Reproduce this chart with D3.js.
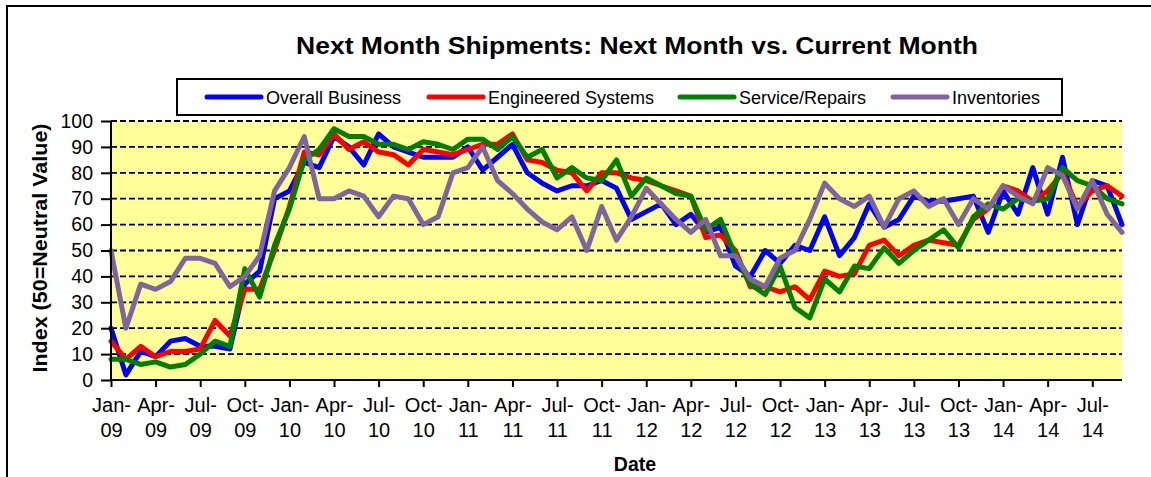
<!DOCTYPE html>
<html>
<head>
<meta charset="utf-8">
<script src="https://cdn.jsdelivr.net/npm/d3@7"></script>
<style>
  body { margin: 0; background: #fff; }
  svg text { font-family: Arial, "Liberation Sans", sans-serif; fill: #000; }
</style>
</head>
<body>
<div id="container"></div>
<script>
// monthly categories Jan-09 .. Sep-14
var monthNames = ["Jan", "Feb", "Mar", "Apr", "May", "Jun", "Jul", "Aug", "Sep", "Oct", "Nov", "Dec"];
var years = ["09", "10", "11", "12", "13", "14"];
var lastMonthOfLastYear = 9;

var overallBusiness = [20, 2, 11, 9, 15, 16, 13, 13, 12, 37, 42, 70, 73, 84, 82, 94, 90, 83, 95, 90,
  88, 86, 86, 86, 90, 81, 86, 91, 80, 76, 73, 75, 75, 77, 74, 62, 65, 68, 60, 64,
  57, 59, 44, 40, 50, 45, 52, 50, 63, 48, 55, 68, 59, 62, 71, 69, 69, 70, 71, 57,
  73, 64, 82, 64, 86, 60, 77, 75, 60];
var engineeredSystems = [15, 8, 13, 9, 11, 11, 12, 23, 17, 35, 35, 50, 67, 88, 87, 95, 89, 92, 88, 87,
  83, 89, 88, 87, 89, 91, 91, 95, 85, 84, 81, 80, 73, 80, 80, 78, 77, 75, 73, 71,
  55, 56, 50, 36, 36, 34, 36, 31, 42, 40, 41, 52, 54, 48, 52, 54, 53, 52, 62, 66,
  75, 73, 69, 73, 80, 67, 73, 75, 71];
var serviceRepairs = [8, 8, 6, 7, 5, 6, 10, 15, 13, 43, 32, 52, 66, 85, 89, 97, 94, 94, 91, 91,
  89, 92, 91, 89, 93, 93, 89, 94, 86, 89, 78, 82, 78, 77, 85, 71, 78, 75, 72, 71,
  58, 62, 48, 37, 33, 44, 28, 24, 39, 34, 44, 43, 51, 45, 50, 54, 58, 51, 63, 68,
  66, 70, 69, 70, 82, 77, 75, 70, 68];
var inventories = [50, 20, 37, 35, 38, 47, 47, 45, 36, 40, 48, 73, 82, 94, 70, 70, 73, 71, 63, 71,
  70, 60, 63, 80, 82, 90, 77, 72, 66, 61, 58, 63, 50, 67, 54, 63, 74, 68, 62, 57,
  62, 48, 48, 39, 36, 47, 50, 62, 76, 70, 67, 71, 59, 70, 73, 67, 70, 60, 70, 66,
  75, 71, 68, 82, 79, 66, 77, 64, 57];

var seriesNames = ["Overall Business", "Engineered Systems", "Service/Repairs", "Inventories"];
var seriesColors = ["#0000ff", "#ff0000", "#008000", "#8064a2"];
var seriesValues = [overallBusiness, engineeredSystems, serviceRepairs, inventories];
var yTicks = [0, 10, 20, 30, 40, 50, 60, 70, 80, 90, 100];

var categories = [];
years.forEach(function (y, yi) {
  monthNames.forEach(function (m, mi) {
    if (yi === years.length - 1 && mi > lastMonthOfLastYear - 1) return;
    categories.push(m + "-" + y);
  });
});

var W = 1151, H = 477;
var plot = { left: 111, right: 1122, top: 121, bottom: 380 };

var svg = d3.select("#container").append("svg")
  .attr("width", W).attr("height", H);

// chart border (runs off the right and bottom)
svg.append("rect")
  .attr("x", 7).attr("y", 6)
  .attr("width", 1200).attr("height", 520)
  .attr("fill", "#fff")
  .attr("stroke", "#000").attr("stroke-width", 2);

var x = d3.scalePoint().domain(categories).range([plot.left, plot.right]);
var y = d3.scaleLinear().domain([0, 100]).range([plot.bottom, plot.top]);

svg.append("rect")
  .attr("x", plot.left).attr("y", plot.top)
  .attr("width", plot.right - plot.left).attr("height", plot.bottom - plot.top)
  .attr("fill", "#ffff99");

// dashed gridlines
svg.append("g").selectAll("line")
  .data(yTicks.filter(function (d) { return d > 0; }))
  .enter().append("line")
  .attr("x1", plot.left).attr("x2", plot.right)
  .attr("y1", function (d) { return y(d); })
  .attr("y2", function (d) { return y(d); })
  .attr("stroke", "#000")
  .attr("stroke-width", 1.8)
  .attr("stroke-dasharray", "6,3");

// series lines
var line = d3.line()
  .x(function (d, i) { return x(categories[i]); })
  .y(function (d) { return y(d); });

svg.append("g").selectAll("path")
  .data(seriesValues)
  .enter().append("path")
  .attr("d", line)
  .attr("fill", "none")
  .attr("stroke", function (d, i) { return seriesColors[i]; })
  .attr("stroke-width", 5)
  .attr("stroke-linejoin", "round")
  .attr("stroke-linecap", "round");

// axes
var yAxis = d3.axisLeft(y).tickValues(yTicks).tickSize(10).tickPadding(8);
var yAxisG = svg.append("g")
  .attr("transform", "translate(" + plot.left + ",0)")
  .call(yAxis);
yAxisG.select(".domain").remove();
yAxisG.selectAll(".tick line").attr("stroke", "#000").attr("stroke-width", 2);
yAxisG.selectAll("text").style("font-size", "19.5px");

var xAxis = d3.axisBottom(x)
  .tickValues(categories.filter(function (d, i) { return i % 3 === 0; }))
  .tickSize(7).tickPadding(0);
var xAxisG = svg.append("g")
  .attr("transform", "translate(0," + plot.bottom + ")")
  .call(xAxis);
xAxisG.select(".domain").remove();
xAxisG.selectAll(".tick line").attr("stroke", "#000").attr("stroke-width", 2);
xAxisG.selectAll(".tick text")
  .style("font-size", "20px")
  .attr("y", null).attr("dy", null)
  .each(function (d) {
    var parts = d.split("-");
    var t = d3.select(this).text(null);
    t.append("tspan").attr("x", 0).attr("y", 32).text(parts[0] + "-");
    t.append("tspan").attr("x", 0).attr("y", 57).text(parts[1]);
  });

svg.append("line")
  .attr("x1", plot.left).attr("x2", plot.left)
  .attr("y1", plot.top).attr("y2", plot.bottom + 1)
  .attr("stroke", "#000").attr("stroke-width", 2);
svg.append("line")
  .attr("x1", plot.left - 1).attr("x2", plot.right)
  .attr("y1", plot.bottom).attr("y2", plot.bottom)
  .attr("stroke", "#000").attr("stroke-width", 2);

// titles
svg.append("text")
  .attr("x", 637).attr("y", 54)
  .attr("text-anchor", "middle")
  .attr("textLength", 682).attr("lengthAdjust", "spacingAndGlyphs")
  .style("font-size", "24px").style("font-weight", "bold")
  .text("Next Month Shipments: Next Month vs. Current Month");

svg.append("text")
  .attr("transform", "translate(47,248) rotate(-90)")
  .attr("text-anchor", "middle")
  .attr("textLength", 249).attr("lengthAdjust", "spacingAndGlyphs")
  .style("font-size", "19.5px").style("font-weight", "bold")
  .text("Index (50=Neutral Value)");

svg.append("text")
  .attr("x", 635).attr("y", 471)
  .attr("text-anchor", "middle")
  .style("font-size", "19.5px").style("font-weight", "bold")
  .text("Date");

// legend
var legendX = [207, 429, 680, 893];
var legend = svg.append("g");
legend.append("rect")
  .attr("x", 177).attr("y", 79)
  .attr("width", 885).attr("height", 36)
  .attr("fill", "#fff")
  .attr("stroke", "#000").attr("stroke-width", 2);
var items = legend.selectAll("g.item")
  .data(seriesNames)
  .enter().append("g")
  .attr("class", "item")
  .attr("transform", function (d, i) { return "translate(" + legendX[i] + ",97)"; });
items.append("line")
  .attr("x1", 0).attr("x2", 54)
  .attr("stroke", function (d, i) { return seriesColors[i]; })
  .attr("stroke-width", 5)
  .attr("stroke-linecap", "round");
items.append("text")
  .attr("x", 59).attr("y", 6.5)
  .style("font-size", "18px")
  .text(function (d) { return d; });
</script>
</body>
</html>
